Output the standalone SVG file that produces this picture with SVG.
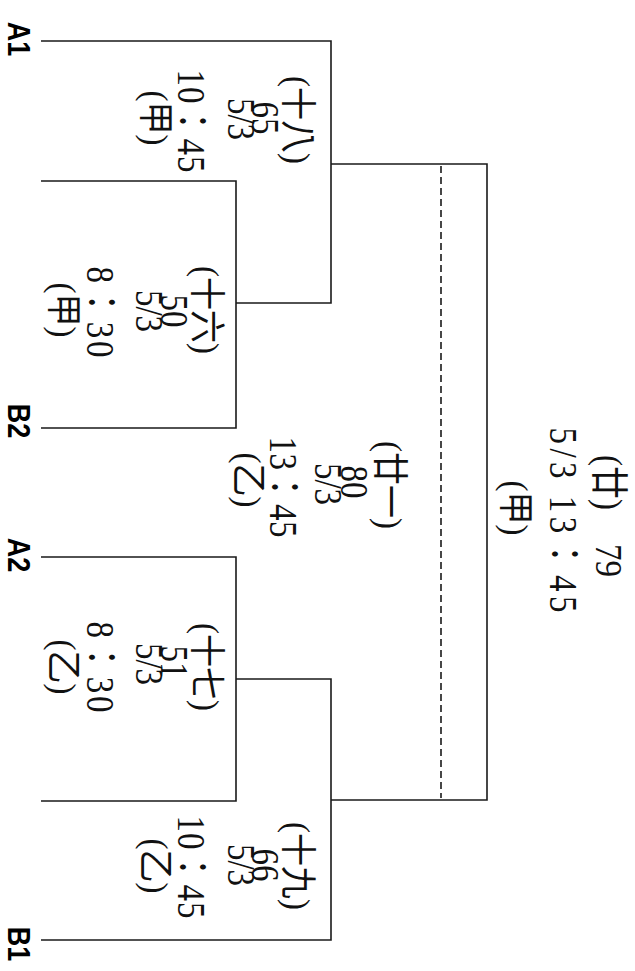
<svg xmlns="http://www.w3.org/2000/svg" width="635" height="971" viewBox="0 0 635 971">
<style>
.bg{fill:#ffffff}
.ln{fill:none;stroke:#1a1a1a;stroke-width:1.6}
.ds{fill:none;stroke:#1a1a1a;stroke-width:1.6;stroke-dasharray:7 4}
.t{font-family:"Liberation Serif","Noto Sans CJK TC",serif;font-size:33px;text-anchor:middle;fill:#111}
.s{text-anchor:start}
.lb{font-family:"Liberation Sans",Arial,sans-serif;font-weight:bold;font-size:27px;text-anchor:middle;fill:#000}
</style>
<rect class="bg" x="0" y="0" width="635" height="971"/>
<g id="connectors">
  <path class="ln" d="M41,41 H331 V303 H236"/>
  <path class="ln" d="M41,181 H236 V428 H41"/>
  <path class="ln" d="M331,164 H487 V800 H331"/>
  <path class="ds" d="M441,166 V798"/>
  <path class="ln" d="M41,557 H236 V801 H41"/>
  <path class="ln" d="M236,679 H331 V940 H41"/>
</g>
<g id="label-A1"><text class="lb" transform="translate(8,39) scale(1.15,1) rotate(90)">A1</text></g>
<g id="label-B2"><text class="lb" transform="translate(8,421) scale(1.15,1) rotate(90)">B2</text></g>
<g id="label-A2"><text class="lb" transform="translate(8,555) scale(1.15,1) rotate(90)">A2</text></g>
<g id="label-B1"><text class="lb" transform="translate(8,944) scale(1.15,1) rotate(90)">B1</text></g>
<g id="match-18">
  <text class="t" transform="translate(285,120) scale(1.1,1) rotate(90)">(十八)</text>
  <text class="t" transform="translate(252,118) scale(1.2,1) rotate(90)">65</text>
  <text class="t" transform="translate(228,119) scale(1.2,1) rotate(90)">5/3</text>
  <text class="t" transform="translate(178,121) scale(1.2,1) rotate(90)" textLength="103" lengthAdjust="spacing">10：45</text>
  <text class="t" transform="translate(143,118) scale(1.1,1) rotate(90)">(甲)</text>
</g>
<g id="match-16">
  <text class="t" transform="translate(194,310) scale(1.1,1) rotate(90)">(十六)</text>
  <text class="t" transform="translate(161,311) scale(1.2,1) rotate(90)">50</text>
  <text class="t" transform="translate(136,311) scale(1.2,1) rotate(90)">5/3</text>
  <text class="t" transform="translate(87,312) scale(1.2,1) rotate(90)" textLength="91" lengthAdjust="spacing">8：30</text>
  <text class="t" transform="translate(51,310) scale(1.1,1) rotate(90)">(甲)</text>
</g>
<g id="match-17">
  <text class="t" transform="translate(194,667) scale(1.1,1) rotate(90)">(十七)</text>
  <text class="t" transform="translate(161,662) scale(1.2,1) rotate(90)">51</text>
  <text class="t" transform="translate(136,664) scale(1.2,1) rotate(90)">5/3</text>
  <text class="t" transform="translate(87,667) scale(1.2,1) rotate(90)" textLength="91" lengthAdjust="spacing">8：30</text>
  <text class="t" transform="translate(51,667) scale(1.1,1) rotate(90)">(乙)</text>
</g>
<g id="match-19">
  <text class="t" transform="translate(285,866) scale(1.1,1) rotate(90)">(十九)</text>
  <text class="t" transform="translate(252,865) scale(1.2,1) rotate(90)">66</text>
  <text class="t" transform="translate(228,865) scale(1.2,1) rotate(90)">5/3</text>
  <text class="t" transform="translate(178,867) scale(1.2,1) rotate(90)" textLength="103" lengthAdjust="spacing">10：45</text>
  <text class="t" transform="translate(143,866) scale(1.1,1) rotate(90)">(乙)</text>
</g>
<g id="match-21">
  <text class="t" transform="translate(377,485) scale(1.1,1) rotate(90)">(廿一)</text>
  <text class="t" transform="translate(341,482) scale(1.2,1) rotate(90)">80</text>
  <text class="t" transform="translate(315,484) scale(1.2,1) rotate(90)">5/3</text>
  <text class="t" transform="translate(270,487) scale(1.2,1) rotate(90)" textLength="101" lengthAdjust="spacing">13：45</text>
  <text class="t" transform="translate(236,480) scale(1.1,1) rotate(90)">(乙)</text>
</g>
<g id="match-20">
  <text class="t s" transform="translate(596,455) scale(1.15,1) rotate(90)">(廿)<tspan dx="34">79</tspan></text>
  <text class="t" transform="translate(550,520) scale(1.2,1) rotate(90)" textLength="185" lengthAdjust="spacing">5/3 13：45</text>
  <text class="t" transform="translate(503,508) scale(1.1,1) rotate(90)">(甲)</text>
</g>
</svg>
